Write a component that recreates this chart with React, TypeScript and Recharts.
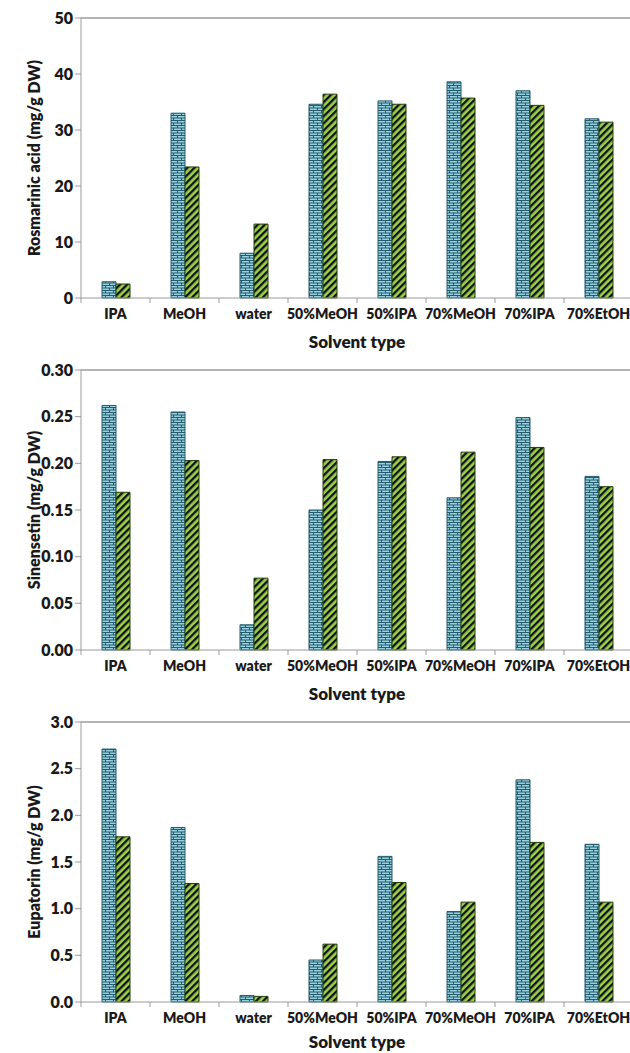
import React from "react"
import { BarChart, Bar, XAxis, YAxis, ReferenceLine } from "recharts"

const categories = ["IPA", "MeOH", "water", "50%MeOH", "50%IPA", "70%MeOH", "70%IPA", "70%EtOH"]

const rosmarinicBrick = [2.9, 33.0, 8.0, 34.6, 35.2, 38.6, 37.0, 32.0]
const rosmarinicStripe = [2.5, 23.4, 13.2, 36.4, 34.6, 35.7, 34.4, 31.4]

const sinensetinBrick = [0.262, 0.255, 0.027, 0.15, 0.202, 0.163, 0.249, 0.186]
const sinensetinStripe = [0.169, 0.203, 0.077, 0.204, 0.207, 0.212, 0.217, 0.175]

const eupatorinBrick = [2.71, 1.87, 0.07, 0.45, 1.56, 0.97, 2.38, 1.69]
const eupatorinStripe = [1.77, 1.27, 0.06, 0.62, 1.28, 1.07, 1.71, 1.07]

const rosmarinicTicks = [0, 10, 20, 30, 40, 50]
const sinensetinTicks = [0, 0.05, 0.1, 0.15, 0.2, 0.25, 0.3]
const eupatorinTicks = [0, 0.5, 1, 1.5, 2, 2.5, 3]

const FONT = "Lato, 'Open Sans', sans-serif"
const AXIS = "#9a9a9a"
const INK = "#1a1a1a"

function buildRows(a: number[], b: number[]) {
  return categories.map((name, i) => ({ name, brick: a[i], stripe: b[i] }))
}

function Patterns() {
  return (
    <defs>
      <pattern id="brick" width="8" height="5" patternUnits="userSpaceOnUse">
        <rect width="8" height="5" fill="#98d2e0" />
        <path d="M0 0.5H8M0 3H8M1.5 0.5V3M5.5 3V5" stroke="#245a6b" strokeWidth="1" />
      </pattern>
      <pattern id="stripe" width="5" height="5" patternUnits="userSpaceOnUse" patternTransform="rotate(45)">
        <rect width="5" height="5" fill="#9bd049" />
        <rect width="2.3" height="5" fill="#111" />
      </pattern>
    </defs>
  )
}

function CategoryTick({ x, y, payload, band }: any) {
  return (
    <g>
      <line x1={x - band / 2} x2={x - band / 2} y1={y - 8} y2={y - 3} stroke={AXIS} />
      <text x={x} y={y + 13} textAnchor="middle" fontFamily={FONT} fontWeight={800} fontSize={14} fill={INK}>
        {payload.value}
      </text>
    </g>
  )
}

interface PanelProps {
  brick: number[]
  stripe: number[]
  ticks: number[]
  digits: number
  yLabel: string
  titleY?: number
}

function Panel({ brick, stripe, ticks, digits, yLabel, titleY = 50 }: PanelProps) {
  const data = buildRows(brick, stripe)
  const max = ticks[ticks.length - 1]
  const band = 552 / categories.length
  return (
    <BarChart
      width={630}
      height={352}
      data={data}
      margin={{ top: 18, right: -3, bottom: 0, left: 0 }}
      barGap={0}
      barSize={14}
    >
      <Patterns />
      <ReferenceLine y={max} stroke={AXIS} strokeWidth={1.5} />
      <XAxis
        dataKey="name"
        height={54}
        stroke={AXIS}
        tickLine={false}
        interval={0}
        tick={<CategoryTick band={band} />}
        label={(p: any) => {
          const vb = p.viewBox
          return (
            <text
              x={vb.x + vb.width / 2}
              y={vb.y + titleY}
              textAnchor="middle"
              fontFamily={FONT}
              fontWeight={800}
              fontSize={17}
              fill={INK}
            >
              Solvent type
            </text>
          )
        }}
      />
      <YAxis
        width={81}
        domain={[0, max]}
        ticks={ticks}
        stroke={AXIS}
        tickSize={6}
        tickLine={{ stroke: AXIS }}
        tickFormatter={(v: number) => v.toFixed(digits)}
        tick={{ fontFamily: FONT, fontWeight: 800, fontSize: 16, fill: INK }}
        label={(p: any) => {
          const vb = p.viewBox
          const cx = 33
          const cy = vb.y + vb.height / 2
          return (
            <text
              x={cx}
              y={cy}
              transform={`rotate(-90 ${cx} ${cy})`}
              textAnchor="middle"
              dominantBaseline="central"
              fontFamily={FONT}
              fontWeight={800}
              fontSize={16}
              fill={INK}
            >
              {yLabel}
            </text>
          )
        }}
      />
      <Bar dataKey="brick" fill="url(#brick)" stroke="#245a6b" strokeWidth={1} isAnimationActive={false} />
      <Bar dataKey="stripe" fill="url(#stripe)" stroke="#233f0e" strokeWidth={1} isAnimationActive={false} />
    </BarChart>
  )
}

export default function App() {
  return (
    <div style={{ position: "absolute", left: 0, top: 0, width: 630, background: "#fff" }}>
      <Panel
        brick={rosmarinicBrick}
        stripe={rosmarinicStripe}
        ticks={rosmarinicTicks}
        digits={0}
        yLabel="Rosmarinic acid (mg/g DW)"
      />
      <Panel
        brick={sinensetinBrick}
        stripe={sinensetinStripe}
        ticks={sinensetinTicks}
        digits={2}
        yLabel="Sinensetin (mg/g DW)"
      />
      <Panel
        brick={eupatorinBrick}
        stripe={eupatorinStripe}
        ticks={eupatorinTicks}
        digits={1}
        yLabel="Eupatorin (mg/g DW)"
        titleY={46}
      />
    </div>
  )
}
